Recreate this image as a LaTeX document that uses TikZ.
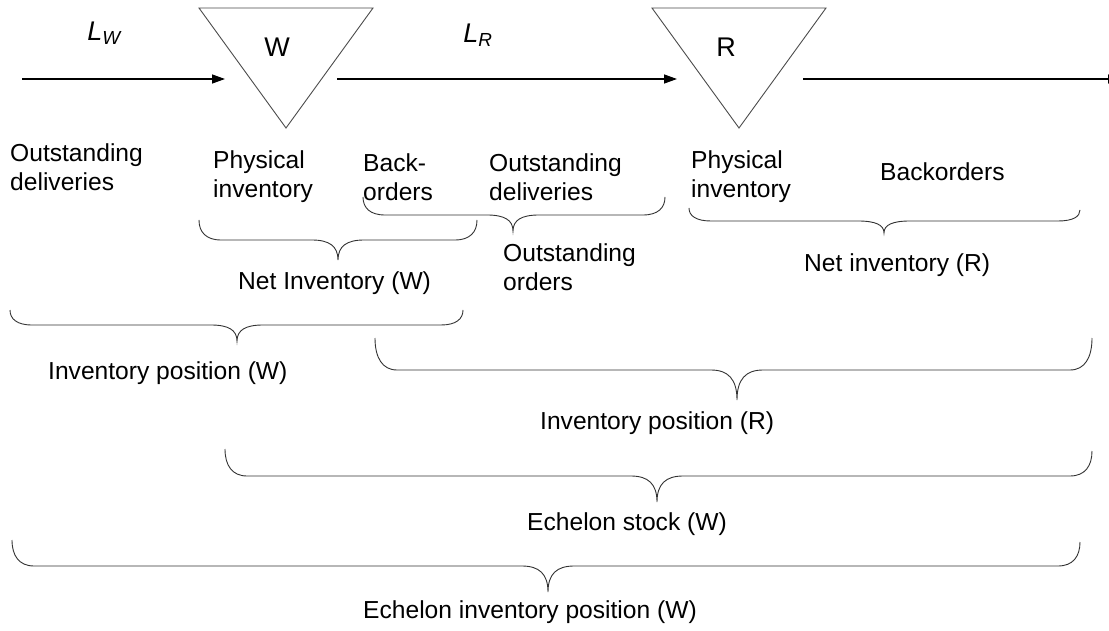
\documentclass[tikz,border=0pt]{standalone}
\usepackage{fontspec}
\setmainfont{Liberation Sans}
\usetikzlibrary{arrows.meta}

% curly brace: left end (x1,y1), right end (x2,y2), flat part at yb, tip at (xm,ytip)
\newcommand{\cbrace}[7]{%
  \draw[bracepen] (#1,#2) .. controls (#1,{#2+0.6*(#5-#2)}) and (#1+7,#5) .. (#1+22,#5)
    -- (#6-26,#5) .. controls (#6-9,#5) and (#6,{#5+0.3*(#7-#5)}) .. (#6,#7)
    .. controls (#6,{#5+0.3*(#7-#5)}) and (#6+9,#5) .. (#6+26,#5)
    -- (#3-22,#5) .. controls (#3-7,#5) and (#3,{#4+0.6*(#5-#4)}) .. (#3,#4);}

\begin{document}
\begin{tikzpicture}[x=1pt,y=-1pt,
  lbl/.style={inner sep=0pt, font=\fontsize{24.6}{29}\selectfont, align=left, anchor=west},
  stage/.style={draw=black!70, line width=0.9pt, line join=miter},
  flow/.style={draw=black, line width=1.3pt, -{Triangle[length=13pt,width=9pt]}},
  bracepen/.style={draw=black!80, line width=0.9pt},
  lead/.style={inner sep=0pt, font=\fontsize{27}{30}\selectfont\itshape}]

\fill[white] (0,0) rectangle (1109,631);
\useasboundingbox (0,0) rectangle (1109,631);

% stages
\draw[stage] (199,8) -- (373,8) -- (286,128) -- cycle;
\draw[stage] (652,8) -- (826,8) -- (739,128) -- cycle;
\node[inner sep=0pt, font=\fontsize{27}{30}\selectfont] (W) at (277,47) {W};
\node[inner sep=0pt, font=\fontsize{27}{30}\selectfont] (R) at (726,47) {R};

% lead times
\node[lead] (LW) at (104,33) {L\textsubscript{W}};
\node[lead] (LR) at (478,35) {L\textsubscript{R}};

% flow of goods
\coordinate (src)  at (22,79);
\coordinate (inW)  at (225,79);
\coordinate (outW) at (337,79);
\coordinate (inR)  at (677,79);
\coordinate (outR) at (803,79);
\coordinate (sink) at (1121,79);
\draw[flow] (src) -- (inW);
\draw[flow] (outW) -- (inR);
\begin{scope}
  \clip (0,0) rectangle (1109,631);
  \draw[flow] (outR) -- (sink);
\end{scope}

% quantities
\node[lbl] (odW) at (10,167)  {Outstanding\\deliveries};
\node[lbl] (piW) at (213,177) {Physical\\inventory};
\node[lbl] (boW) at (363,177) {Back-\\orders};
\node[lbl] (odR) at (489,177) {Outstanding\\deliveries};
\node[lbl] (piR) at (691,177) {Physical\\inventory};
\node[lbl] (boR) at (880,172) {Backorders};

\node[lbl] (niW)  at (238,283) {Net Inventory (W)};
\node[lbl] (oo)   at (503,267) {Outstanding\\orders};
\node[lbl] (niR)  at (804,265) {Net inventory (R)};
\node[lbl] (ipW)  at (48,373)  {Inventory position (W)};
\node[lbl] (ipR)  at (540,423) {Inventory position (R)};
\node[lbl] (esW)  at (527,524) {Echelon stock (W)};
\node[lbl] (eipW) at (363,612) {Echelon inventory position (W)};

% braces
\cbrace{199}{220}{477}{220}{240}{338}{260}
\cbrace{363}{197}{665}{197}{215}{513}{231}
\cbrace{689}{208}{1080}{210}{221}{884}{233}
\cbrace{10}{310}{463}{310}{325}{237}{341}
\cbrace{375}{338}{1092}{338}{370}{737}{400}
\cbrace{225}{449}{1092}{451}{476}{657}{502}
\cbrace{12}{540}{1080}{542}{566}{548}{592}

\end{tikzpicture}
\end{document}
